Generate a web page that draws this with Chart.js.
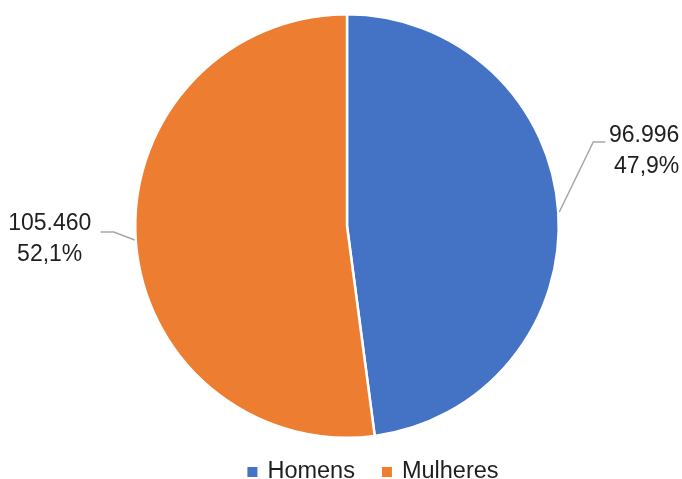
<!DOCTYPE html>
<html>
<head>
<meta charset="utf-8">
<script src="https://cdn.jsdelivr.net/npm/chart.js@4/dist/chart.umd.min.js"></script>
<style>
html,body{margin:0;padding:0;background:#fff;}
#wrap{width:682px;height:479px;position:relative;}
</style>
</head>
<body>
<div id="wrap"><canvas id="c" width="682" height="479"></canvas></div>
<script>
const categories = ["Homens", "Mulheres"];
const values = [96996, 105460];
const valueLabels = ["96.996", "105.460"];
const percentLabels = ["47,9%", "52,1%"];
const colors = ["#4472C4", "#ED7D31"];

const FONT = "'Liberation Sans', Arial, sans-serif";
const TEXT_COLOR = "#1f1f1f";

// label placement relative to slice mid-point on the rim (style only)
const labelLayout = [
  {elbow:[34,-70], end:[46,-70], textX:120, align:'right', base1:-70, base2:-39},
  {elbow:[-21,-8], end:[-34,-8], textX:-85, align:'center', base1:-10, base2:21}
];

const labelPlugin = {
  id: 'pieLabels',
  afterDatasetsDraw(chart) {
    const ctx = chart.ctx;
    const meta = chart.getDatasetMeta(0);
    meta.data.forEach((arc, i) => {
      const p = arc.getProps(['x','y','startAngle','endAngle','outerRadius'], true);
      const mid = (p.startAngle + p.endAngle) / 2;
      const ax = p.x + Math.cos(mid) * (p.outerRadius + 1);
      const ay = p.y + Math.sin(mid) * (p.outerRadius + 1);
      const L = labelLayout[i];
      ctx.save();
      ctx.strokeStyle = '#A6A6A6';
      ctx.lineWidth = 1.5;
      ctx.beginPath();
      ctx.moveTo(ax, ay);
      ctx.lineTo(ax + L.elbow[0], ay + L.elbow[1]);
      ctx.lineTo(ax + L.end[0], ay + L.end[1]);
      ctx.stroke();
      ctx.fillStyle = TEXT_COLOR;
      ctx.font = '23px ' + FONT;
      ctx.textAlign = L.align;
      ctx.textBaseline = 'alphabetic';
      const tx = ax + L.textX;
      ctx.fillText(valueLabels[i], tx, ay + L.base1);
      ctx.fillText(percentLabels[i], tx, ay + L.base2);
      ctx.restore();
    });
  }
};

const legendPlugin = {
  id: 'bottomLegend',
  afterDraw(chart) {
    const ctx = chart.ctx;
    ctx.save();
    ctx.font = '23.5px ' + FONT;
    const box = 10, gapText = 10, gapItem = 27;
    const widths = categories.map(c => ctx.measureText(c).width);
    let total = 0;
    widths.forEach((w, i) => { total += box + gapText + w + (i < widths.length - 1 ? gapItem : 0); });
    const centerX = 373;
    let x = centerX - total / 2;
    const baseline = 478;
    categories.forEach((c, i) => {
      ctx.fillStyle = colors[i];
      ctx.fillRect(x, baseline - 11, box, box);
      x += box + gapText;
      ctx.fillStyle = TEXT_COLOR;
      ctx.textAlign = 'left';
      ctx.textBaseline = 'alphabetic';
      ctx.fillText(c, x, baseline);
      x += widths[i] + gapItem;
    });
    ctx.restore();
  }
};

new Chart(document.getElementById('c'), {
  type: 'pie',
  data: {
    labels: categories,
    datasets: [{
      data: values,
      backgroundColor: colors,
      borderColor: '#ffffff',
      borderWidth: 2.5
    }]
  },
  options: {
    responsive: false,
    animation: false,
    layout: { padding: { top: 13, bottom: 40, left: 12, right: 0 } },
    plugins: {
      tooltip: { enabled: false },
      legend: { display: false }
    }
  },
  plugins: [labelPlugin, legendPlugin]
});
</script>
</body>
</html>
